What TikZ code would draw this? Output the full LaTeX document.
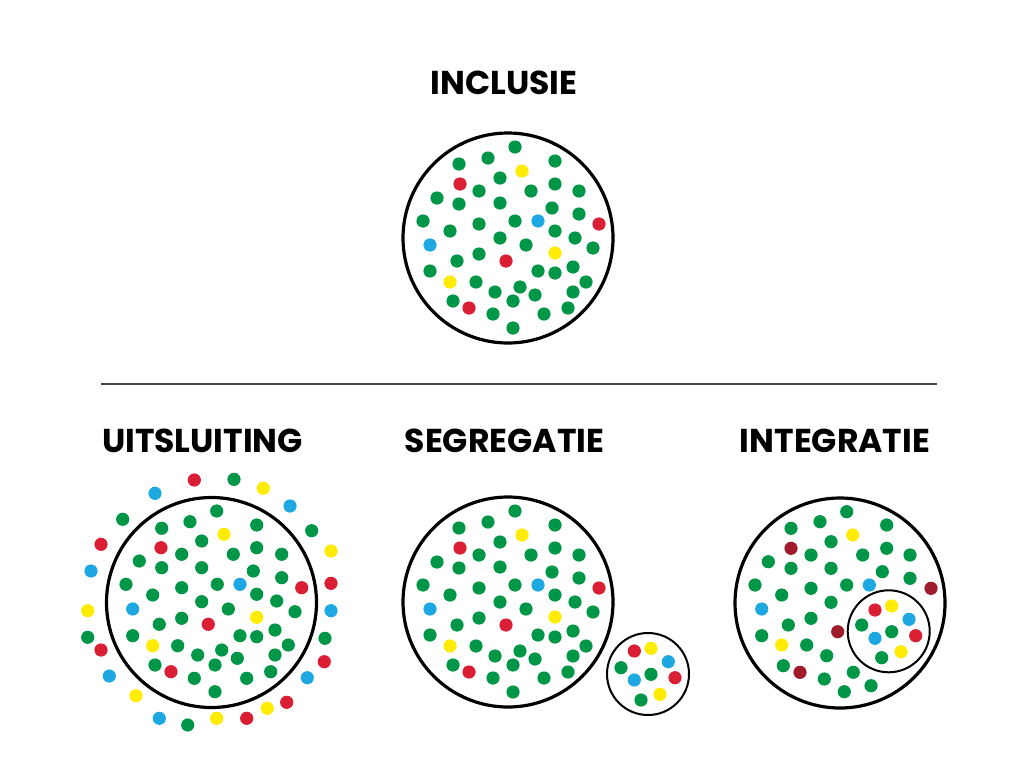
\documentclass[tikz,border=0pt]{standalone}
\usepackage{fontspec}
\usepackage{tikz}
\newfontfamily\labelfont{Poppins}

\definecolor{groen}{RGB}{0,150,72}
\definecolor{rood}{RGB}{218,30,52}
\definecolor{donkerrood}{RGB}{160,28,45}
\definecolor{geel}{RGB}{255,236,0}
\definecolor{blauw}{RGB}{30,168,226}
\definecolor{lijn}{RGB}{70,70,70}

% shared pattern of dots (offsets from the circle centre, in px)
\newcommand{\patroon}{7/-91/groen, -20/-80/groen, -49/-74/groen, 47/-77/groen, 14/-67/geel,
  -8/-60/groen, -48/-54/rood, -29/-47/groen, 23/-47/groen, 47/-54/groen, 71/-47/groen,
  -71/-40/groen, -49/-34/groen, -8/-35/groen, 44/-30/groen, 71/-24/groen, -85/-17/groen,
  -29/-14/groen, 7/-17/groen, 30/-17/blauw, 91/-14/rood, -58/-7/groen, 47/-7/groen,
  -8/0/groen, 67/0/groen, -78/7/blauw, 18/7/groen, 85/10/groen, 47/15/geel, -29/16/groen,
  -51/23/groen, -2/23/rood, -78/33/groen, 30/33/groen, 47/35/groen, 65/29/groen,
  -58/44/geel, -32/44/groen, 78/44/groen, -13/54/groen, 12/49/groen, 27/57/groen,
  65/54/groen, -55/63/groen, -39/70/rood, 5/63/groen, 60/70/groen, -15/76/groen,
  36/76/groen, 5/90/groen}

\tikzset{
  titel/.style={font=\labelfont\bfseries\fontsize{23.5}{23.5}\selectfont, inner sep=0pt},
  kring/.style={line width=0.8mm},
  kleinekring/.style={line width=0.5mm},
  bol/.style={radius=1.65mm}
}

\begin{document}
\begin{tikzpicture}[x=0.25mm, y=-0.25mm]
    \useasboundingbox (0,0) rectangle (1025,768);

    % Inclusie
    \node(100) at (504,83) [titel] {INCLUSIE};
    \draw[kring] (508,238) circle[radius=26.25mm];
    \foreach \x/\y/\c in \patroon
        \fill[\c, bol] (508+\x,238+\y) circle;

    \draw[lijn, line width=0.5mm] (101,384) -- (937,384);

    % Uitsluiting
    \node(200) at (202.5,441) [titel] {UITSLUITING};
    \draw[kring] (211.5,602.5) circle[radius=26.25mm];
    \foreach \x/\y/\c in {216.7/511/groen, 190/521.7/groen, 161.7/528.3/groen, 256.7/525/groen,
        224/534.3/geel, 201.7/541/groen, 161/547.7/rood, 181.7/554.3/groen, 233.3/554.3/groen,
        256.7/547.7/groen, 281.7/554.3/groen, 139.3/561/groen, 161.7/567.7/groen,
        201.7/567.7/groen, 253.3/571/groen, 281.7/577.7/groen, 126/584.3/groen,
        181.7/587.7/groen, 217.3/584.3/groen, 240/584.3/blauw, 301.7/587.7/rood,
        152.7/595/groen, 256.7/594.3/groen, 201.7/601.7/groen, 276.7/601/groen,
        132.7/609/blauw, 228.3/609/groen, 295/611.7/groen, 256.7/617.3/geel,
        181.7/618.3/groen, 159.3/624.3/groen, 208.3/624.3/rood, 132.7/635.7/groen,
        240/635.7/groen, 256.7/636.7/groen, 275/630/groen, 152.7/645.7/geel,
        177.7/645.7/groen, 288.3/645/groen, 197.7/655/groen, 221.7/650/groen,
        237.3/658.3/groen, 275/655/groen, 155/665/groen, 171/671.7/rood, 215/665/groen,
        270.7/671.7/groen, 194.3/678.3/groen, 246.7/678.3/groen, 215/691.7/groen}
        \fill[\c, bol] (\x,\y) circle;
    % dots outside the circle
    \foreach \x/\y/\c in {194.3/480/rood, 234/479.3/groen, 263.3/488.3/geel, 155/493.3/blauw,
        290/506/blauw, 122.7/519.3/groen, 311.7/530.7/groen, 101/544.3/rood, 331/551/geel,
        91/571/blauw, 331/583.3/rood, 87.7/610.7/geel, 331/610.7/blauw, 87.7/637.3/groen,
        325/638.3/groen, 101/650/rood, 324.3/661.7/rood, 109.3/676/blauw, 307.3/677.7/blauw,
        136/695.7/geel, 286.7/702.3/rood, 267.3/708.3/geel, 159.3/718.3/blauw,
        187.7/725/groen, 216.7/718.3/geel, 246.7/718.3/rood}
        \fill[\c, bol] (\x,\y) circle;

    % Segregatie
    \node(300) at (504.5,441) [titel] {SEGREGATIE};
    \draw[kring] (508,602) circle[radius=26.25mm];
    \foreach \x/\y/\c in \patroon
        \fill[\c, bol] (508+\x,602+\y) circle;
    \draw[kleinekring] (648,674) circle[radius=10.25mm];
    \foreach \x/\y/\c in {634.3/651/rood, 651/648.3/geel, 668.3/661.7/blauw, 621/667.7/groen,
        651/674.3/groen, 634.3/680/blauw, 675/677.7/rood, 660/694.3/geel, 641/700/groen}
        \fill[\c, bol] (\x,\y) circle;

    % Integratie
    \node(400) at (835,441) [titel] {INTEGRATIE};
    \draw[kring] (840,603) circle[radius=26.25mm];
    \foreach \x/\y/\c in {846.7/511.7/groen, 820/521.7/groen, 791/528.3/groen, 886.7/525/groen,
        852.7/535/geel, 831/541.7/groen, 791/548.3/donkerrood, 811/555/groen, 862.7/555/groen,
        886.7/548.3/groen, 910/555/groen, 768.3/561.7/groen, 791/568.3/groen,
        831/568.3/groen, 882.3/571.7/groen, 910/578.3/groen, 755/585/groen, 811/588.3/groen,
        846.7/585/groen, 869.3/585/blauw, 931/588.3/donkerrood, 781.7/595/groen,
        831/602.3/groen, 761.7/609/blauw, 811/618.3/groen, 788.3/625/groen,
        837.7/631.7/donkerrood, 761.7/635.7/groen, 781.7/645/geel, 806.7/645/groen,
        826.7/655.7/groen, 783.3/665.7/groen, 800/672.3/donkerrood, 853.3/672.3/groen,
        824.3/679/groen, 871/685.7/groen, 844.3/691.7/groen}
        \fill[\c, bol] (\x,\y) circle;
    \draw[kleinekring] (888.7,631.3) circle[radius=10.25mm];
    \foreach \x/\y/\c in {875/610/rood, 891.7/606/geel, 909/619.3/blauw, 861.7/625/groen,
        891.7/631.7/groen, 875/638.3/blauw, 915.7/635.7/rood, 901/651.7/geel, 881.7/657.7/groen}
        \fill[\c, bol] (\x,\y) circle;
\end{tikzpicture}
\end{document}
